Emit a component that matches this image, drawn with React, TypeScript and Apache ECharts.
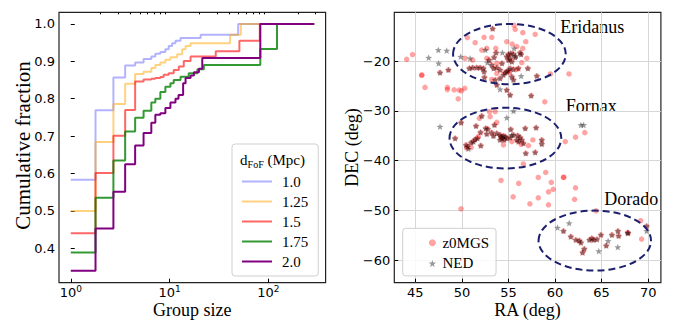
import React, { useEffect, useRef } from 'react';
import * as echarts from 'echarts';

// ---------- Left panel: cumulative fraction vs group size ----------
const dFoFLabels = ['1.0', '1.25', '1.5', '1.75', '2.0'];
const dFoFColors = ['rgba(0,0,255,0.3)', 'rgba(255,165,0,0.5)', 'rgba(255,0,0,0.6)', 'rgba(0,128,0,0.8)', 'rgb(128,0,128)'];

const size10 = [1, 1.78, 2.70, 3.55, 4.48, 5.45, 6.53, 7.17, 8.06, 9.06, 9.79, 10.6, 11.46, 12.9, 20.6, 49.4, 290];
const frac10 = [0.583, 0.769, 0.857, 0.889, 0.897, 0.906, 0.913, 0.92, 0.925, 0.932, 0.941, 0.948, 0.955, 0.962, 0.971, 1.0, 1.0];

const size125 = [1, 1.78, 2.70, 3.55, 4.48, 5.45, 6.53, 7.17, 8.06, 9.06, 10.19, 11.92, 13.4, 14.5, 16.3, 40.9, 52.6, 290];
const frac125 = [0.5, 0.684, 0.786, 0.84, 0.866, 0.872, 0.882, 0.89, 0.897, 0.904, 0.911, 0.919, 0.932, 0.941, 0.948, 0.971, 1.0, 1.0];

const size15 = [1, 1.78, 2.70, 3.55, 4.48, 5.45, 6.53, 7.17, 8.06, 8.71, 9.79, 11.0, 12.4, 13.9, 16.3, 29.3, 50.8, 81.7, 290];
const frac15 = [0.44, 0.601, 0.701, 0.770, 0.846, 0.851, 0.853, 0.855, 0.858, 0.864, 0.868, 0.877, 0.886, 0.901, 0.913, 0.927, 0.955, 1.0, 1.0];

const size175 = [1, 1.78, 2.70, 3.55, 4.48, 5.45, 6.53, 7.17, 8.06, 9.06, 10.19, 11.0, 12.9, 15.6, 19.1, 22.2, 82.7, 122, 290];
const frac175 = [0.389, 0.535, 0.635, 0.712, 0.749, 0.768, 0.79, 0.80, 0.818, 0.832, 0.841, 0.850, 0.859, 0.868, 0.879, 0.890, 0.933, 1.0, 1.0];

const size20 = [1, 1.78, 2.70, 3.55, 4.48, 5.45, 6.53, 7.17, 8.06, 9.06, 10.19, 11.46, 12.3, 13.7, 14.5, 16.3, 17.6, 19.8, 21.4, 82.7, 290];
const frac20 = [0.34, 0.453, 0.551, 0.625, 0.675, 0.708, 0.736, 0.757, 0.761, 0.775, 0.79, 0.80, 0.81, 0.841, 0.855, 0.862, 0.871, 0.880, 0.909, 1.0, 1.0];

const curveSizes = [size10, size125, size15, size175, size20];
const curveFracs = [frac10, frac125, frac15, frac175, frac20];

const groupSizeMajorTicks = [1, 10, 100];
const groupSizeMinorTicks = [2, 3, 4, 5, 6, 7, 8, 9, 20, 30, 40, 50, 60, 70, 80, 90, 200, 300];
const fracTicks = [0.4, 0.5, 0.6, 0.7, 0.8, 0.9, 1.0];

// ---------- Right panel: RA / DEC ----------
const raTicks = [45, 50, 55, 60, 65, 70];
const decTicks = [-60, -50, -40, -30, -20];

// z0MGS only
const z0mgsOnly = [
  [44.07, -19.67], [44.7, -18.7], [45.68, -22.88], [45.7, -22.8], [46.04, -25.3], [48.44, -25.3], [48.44, -25.75],
  [49.16, -25.8], [49.7, -25.85], [49.6, -27.6], [49.95, -26.0], [50.3, -25.5], [49.9, -49.7],
  [61.5, -22.6], [58.9, -28.2], [59.5, -22.6],
  [61.1, -36.2], [62.2, -35.3], [63.2, -34.4],
  [56.6, -40.7], [54.2, -44.0], [56.1, -44.6], [58.2, -43.4], [59.0, -42.4], [59.6, -44.4], [59.8, -45.8],
  [59.3, -46.3], [60.9, -43.4], [60.95, -43.35], [55.5, -47.3], [57.3, -48.7], [58.2, -47.5], [59.3, -48.9],
  [62.2, -45.5], [62.1, -47.8], [64.4, -50.1], [69.2, -52.1], [69.3, -55.8],
  [50.59, -15.31], [51.42, -16.32], [52.38, -15.24], [53.21, -15.24], [53.64, -17.45], [52.67, -17.45],
  [52.13, -17.79], [54.82, -16.12], [55.61, -12.83], [55.72, -13.64], [56.54, -14.3], [56.86, -16.12],
  [57.87, -14.64], [55.9, -17.1], [55.4, -16.6], [56.54, -17.45], [50.34, -19.46], [51.16, -19.8],
  [52.67, -19.46], [53.75, -20.47], [56.43, -20.33], [56.97, -19.46], [55.1, -22.34], [55.9, -21.7],
  [53.75, -22.5], [53.2, -23.7],
  [50.99, -37.41], [51.88, -31.52], [53.03, -31.19], [52.96, -30.18], [53.57, -30.18], [53.75, -32.32],
  [51.77, -35.2], [54.46, -36.88], [55.36, -36.2], [57.62, -35.87], [56.36, -36.75], [57.15, -37.0], [50.5, -37.5]
];

// in both catalogues
const matched = [
  [51.16, -21.34], [51.6, -21.34], [51.95, -21.34], [52.31, -21.47], [50.8, -21.47], [52.38, -22.14], [52.42, -23.28],
  [52.92, -19.8], [53.2, -20.8], [53.4, -21.47], [53.75, -21.34], [54.1, -21.8], [54.3, -20.47], [53.57, -23.8],
  [54.1, -23.48], [54.46, -22.8], [54.64, -22.34], [54.82, -22.14], [55.0, -21.94], [55.18, -21.47], [55.54, -21.67],
  [55.36, -23.15], [54.82, -19.13], [55.0, -18.66], [55.25, -18.46], [55.54, -18.6], [55.18, -19.46], [55.0, -19.8],
  [55.36, -20.13], [56.25, -18.33], [56.36, -18.66], [56.07, -21.47], [55.54, -23.8], [53.67, -18.33], [53.46, -19.26],
  [55.72, -19.26], [57.08, -21.47], [58.05, -23.01], [47.65, -22.34], [48.55, -21.8], [53.75, -24.82], [54.82, -25.83],
  [55.18, -26.83], [57.44, -26.97], [53.3, -13.5],
  [49.27, -35.54], [49.91, -32.39], [50.45, -36.88], [50.63, -37.21], [50.99, -36.41], [51.24, -36.2], [51.42, -35.74],
  [51.67, -35.54], [52.03, -37.01], [51.52, -33.06], [52.13, -31.05], [52.56, -33.53], [52.78, -33.66], [52.0, -34.33],
  [52.67, -34.67], [53.2, -34.4], [53.39, -35.07], [53.75, -34.53], [53.5, -32.86], [54.1, -34.87], [54.2, -35.2],
  [54.32, -35.54], [54.46, -35.07], [54.53, -35.87], [54.1, -35.87], [54.64, -35.2], [54.82, -35.54], [55.18, -35.4],
  [55.54, -34.87], [55.9, -35.87], [56.25, -35.34], [56.43, -35.87], [56.07, -36.2], [56.61, -36.54], [56.8, -33.53],
  [56.86, -38.55], [57.87, -38.35], [57.97, -33.4], [58.58, -35.87], [58.58, -36.68], [55.25, -33.73], [56.0, -35.0],
  [60.91, -54.17], [61.7, -55.3], [62.24, -55.97], [62.6, -56.1], [62.78, -56.5], [63.14, -57.77], [62.96, -58.5],
  [63.7, -55.97], [63.96, -55.63], [64.14, -55.97], [64.5, -55.83], [64.93, -54.96], [66.11, -54.96], [66.76, -54.17],
  [66.83, -55.16], [67.8, -54.5], [67.85, -54.6], [69.84, -53.2], [65.5, -57.1]
];

// NED only
const nedOnly = [
  [46.43, -19.33], [47.47, -17.79], [48.37, -17.92], [47.5, -20.47], [49.87, -19.13], [50.88, -19.46], [52.53, -17.79],
  [52.74, -20.33], [54.35, -18.33], [55.6, -17.45], [55.8, -18.99], [56.36, -23.01], [54.1, -25.7],
  [47.65, -33.2], [54.82, -31.39], [55.54, -30.05], [50.7, -37.68], [55.36, -34.87], [62.78, -32.86], [63.07, -32.86],
  [60.27, -53.5], [61.52, -52.6], [64.7, -58.2], [65.7, -56.17], [66.74, -57.4], [69.84, -54.17]
];

const groupNames = ['Eridanus', 'Fornax', 'Dorado'];
const groupRA = [55.1, 54.67, 64.27];
const groupDEC = [-18.6, -35.5, -56.1];
const groupRadRA = [6.05, 6.0, 6.04];
const groupRadDEC = [6.06, 6.1, 6.03];

const SERIF = "'Liberation Serif', 'Times New Roman', serif";
const SANS = "'DejaVu Sans', sans-serif";

const starPath = (() => {
  const pts: string[] = [];
  for (let i = 0; i < 10; i++) {
    const r = i % 2 === 0 ? 1 : 0.42;
    const a = -Math.PI / 2 + (i * Math.PI) / 5;
    pts.push(`${(r * Math.cos(a)).toFixed(3)} ${(r * Math.sin(a)).toFixed(3)}`);
  }
  return 'path://M' + pts.join(' L') + ' Z';
})();

const minusFmt = (v: number) => (v < 0 ? '\u2212' : '') + Math.abs(Math.round(v));

const centered = { align: 'center', verticalAlign: 'middle', textAlign: 'center', textVerticalAlign: 'middle' };

export default function App() {
  const ref = useRef<HTMLDivElement>(null);
  useEffect(() => {
    if (!ref.current) return;
    document.body.style.margin = '0';
    const chart = echarts.init(ref.current, undefined, { renderer: 'svg' });

    const GL = 59, GW = 266.6, GT = 12.3, GH = 270.4, GR = 394.3;

    const lineSeries = dFoFLabels.map((name, i) => ({
      name,
      type: 'line',
      xAxisIndex: 0,
      yAxisIndex: 0,
      step: 'end',
      symbol: 'none',
      showSymbol: false,
      data: curveSizes[i].map((s, k) => [Math.log10(s), curveFracs[i][k]]),
      lineStyle: { color: dFoFColors[i], width: 2 },
      itemStyle: { color: dFoFColors[i] },
      z: 2 + i,
    }));

    const tickLabel = { fontFamily: SANS, fontSize: 13, color: '#000' };

    chart.setOption({
      animation: false,
      backgroundColor: '#fff',
      grid: [
        { left: GL, top: GT, width: GW, height: GH, show: true, borderColor: '#222', borderWidth: 1.2, backgroundColor: 'transparent' },
        { left: GR, top: GT, width: GW, height: GH, show: true, borderColor: '#222', borderWidth: 1.2, backgroundColor: 'transparent' },
      ],
      xAxis: [
        {
          type: 'value', gridIndex: 0, min: -0.119, max: 2.578,
          axisLine: { show: false },
          axisTick: { inside: true, length: 4, customValues: groupSizeMajorTicks.map(Math.log10), lineStyle: { color: '#000' } },
          axisLabel: {
            customValues: groupSizeMajorTicks.map(Math.log10), margin: 2,
            formatter: (v: number) => `{b|10}{s|${Math.round(v)}}`,
            rich: {
              b: { fontFamily: SANS, fontSize: 13, color: '#000', lineHeight: 14, verticalAlign: 'bottom' },
              s: { fontFamily: SANS, fontSize: 9, color: '#000', lineHeight: 9, verticalAlign: 'top' },
            },
          },
          splitLine: { show: false },
        },
        {
          type: 'value', gridIndex: 0, min: -0.119, max: 2.578,
          axisLine: { show: false },
          axisTick: { inside: true, length: 2, customValues: groupSizeMinorTicks.map(Math.log10), lineStyle: { color: '#000' } },
          axisLabel: { show: false },
          splitLine: { show: false },
        },
        {
          type: 'value', gridIndex: 1, min: 42.74, max: 71.37,
          axisLine: { show: false },
          axisTick: { inside: true, length: 4, customValues: raTicks, lineStyle: { color: '#000' } },
          axisLabel: { customValues: raTicks, margin: 3, ...tickLabel },
          splitLine: { show: true, lineStyle: { color: '#d6d6d6', width: 1 } },
        },
      ],
      yAxis: [
        {
          type: 'value', gridIndex: 0, min: 0.308, max: 1.031,
          axisLine: { show: false },
          axisTick: { inside: true, length: 4, customValues: fracTicks, lineStyle: { color: '#000' } },
          axisLabel: { customValues: fracTicks, margin: 4, formatter: (v: number) => v.toFixed(1), ...tickLabel },
          splitLine: { show: false },
        },
        {
          type: 'value', gridIndex: 1, min: -64.56, max: -10.21,
          axisLine: { show: false },
          axisTick: { inside: true, length: 4, customValues: decTicks, lineStyle: { color: '#000' } },
          axisLabel: { customValues: decTicks, margin: 4, formatter: minusFmt, ...tickLabel },
          splitLine: { show: true, lineStyle: { color: '#d6d6d6', width: 1 } },
        },
      ],
      legend: [
        {
          data: dFoFLabels, orient: 'vertical', left: 232, top: 144,
          icon: 'path://M0 0 H30 V2 H0 Z',
          padding: [30, 10, 7, 10], itemWidth: 30, itemHeight: 14, itemGap: 5,
          borderColor: '#cfcfcf', borderWidth: 1, borderRadius: 3, backgroundColor: '#fff',
          selectedMode: false,
          textStyle: { fontFamily: SERIF, fontSize: 15, color: '#000', padding: [0, 0, 0, 5] },
        },
        {
          data: ['z0MGS', 'NED'], orient: 'vertical', left: 402.7, top: 228.3,
          padding: [7, 7, 5, 26], itemWidth: 8, itemHeight: 7, itemGap: 5.6,
          borderColor: '#cfcfcf', borderWidth: 1, borderRadius: 3, backgroundColor: 'rgba(255,255,255,0.85)',
          selectedMode: false,
          textStyle: { fontFamily: SERIF, fontSize: 15, color: '#000', padding: [0, 0, 0, 1] },
        },
      ],
      series: [
        ...lineSeries,
        {
          name: 'z0MGS', type: 'scatter', xAxisIndex: 2, yAxisIndex: 1,
          symbol: 'circle', symbolSize: 5.5,
          itemStyle: { color: 'rgba(255,0,0,0.45)' },
          data: z0mgsOnly.concat(matched),
          z: 3,
        },
        {
          name: 'NED', type: 'scatter', xAxisIndex: 2, yAxisIndex: 1,
          symbol: starPath, symbolSize: 7, symbolKeepAspect: true,
          itemStyle: { color: 'rgba(0,0,0,0.5)' },
          data: nedOnly.concat(matched),
          z: 4,
        },
        {
          name: 'groups', type: 'custom', xAxisIndex: 2, yAxisIndex: 1,
          encode: { x: 0, y: 1 },
          data: groupNames.map((_, i) => [groupRA[i], groupDEC[i], groupRadRA[i], groupRadDEC[i]]),
          renderItem: (params: any, api: any) => {
            const c = api.coord([api.value(0), api.value(1)]);
            const s = api.size([api.value(2), api.value(3)]);
            return {
              type: 'ellipse',
              shape: { cx: c[0], cy: c[1], rx: s[0], ry: s[1] },
              style: { fill: 'none', stroke: '#1b1f6e', lineWidth: 2, lineDash: [7, 4] },
            };
          },
          z: 5,
        },
      ],
      graphic: [
        {
          type: 'text', x: 23, y: GT + GH / 2 - 2, rotation: Math.PI / 2,
          style: { text: 'Cumulative fraction', font: `21px ${SERIF}`, fill: '#000', ...centered },
        },
        {
          type: 'text', x: GL + GW / 2, y: 310,
          style: { text: 'Group size', font: `18px ${SERIF}`, fill: '#000', ...centered },
        },
        {
          type: 'text', x: 351.5, y: GT + GH / 2, rotation: Math.PI / 2,
          style: { text: 'DEC (deg)', font: `18px ${SERIF}`, fill: '#000', ...centered },
        },
        {
          type: 'text', x: GR + GW / 2, y: 310,
          style: { text: 'RA (deg)', font: `18px ${SERIF}`, fill: '#000', ...centered },
        },
        {
          type: 'text', x: 592.3, y: 26.7,
          style: { text: groupNames[0], font: `18px ${SERIF}`, fill: '#000', ...centered },
        },
        {
          type: 'text', x: 591.2, y: 106,
          style: { text: groupNames[1], font: `18px ${SERIF}`, fill: '#000', ...centered },
        },
        {
          type: 'text', x: 631.2, y: 199.3,
          style: { text: groupNames[2], font: `18px ${SERIF}`, fill: '#000', ...centered },
        },
        {
          type: 'text', x: 272.5, y: 161, z: 100,
          style: {
            text: '{a|d}{b|FoF}{a| (Mpc)}',
            rich: {
              a: { fontFamily: SERIF, fontSize: 15, fill: '#000', color: '#000', lineHeight: 15, verticalAlign: 'top' },
              b: { fontFamily: SERIF, fontSize: 10, fill: '#000', color: '#000', lineHeight: 17, verticalAlign: 'bottom' },
            },
            ...centered,
          },
        },
      ],
    });
    return () => chart.dispose();
  }, []);
  return <div ref={ref} style={{ position: 'fixed', left: 0, top: 0, width: 680, height: 332 }} />;
}
